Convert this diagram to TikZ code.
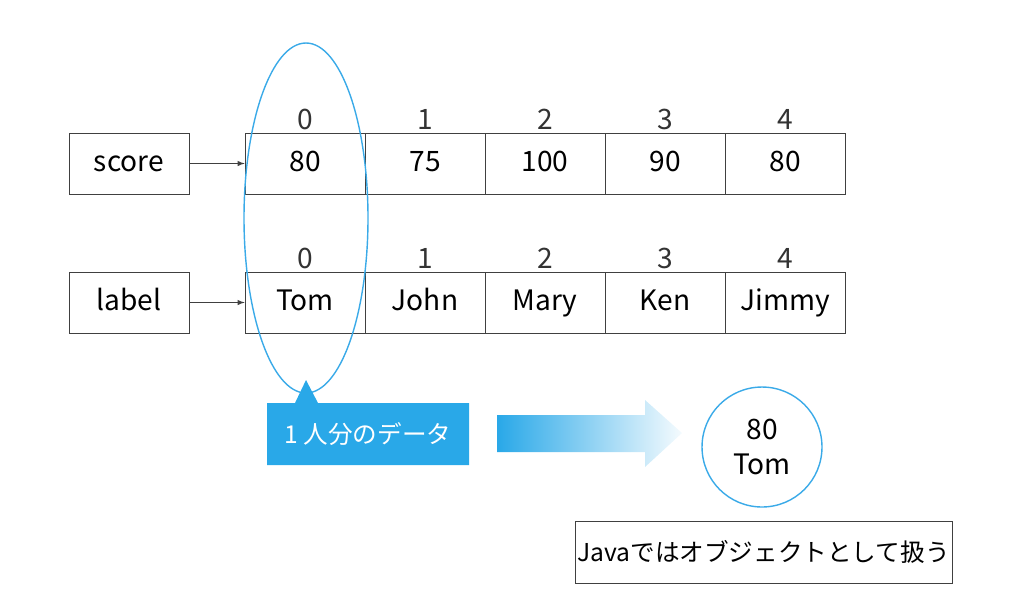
\documentclass[tikz,border=0pt]{standalone}
\usepackage{fontspec}
\setmainfont{Noto Sans CJK JP}
\definecolor{callblue}{HTML}{29A8E8}
\definecolor{ringblue}{HTML}{3AAAE8}
\begin{document}
\begin{tikzpicture}[x=0.02cm,y=-0.02cm,
    cell/.style={draw=black!75,minimum width=2.4cm,minimum height=1.22cm,inner sep=0pt,text height=2ex,text depth=0.3ex,font=\fontsize{16}{19}\selectfont},
    namebox/.style={cell},
    idx/.style={font=\fontsize{16}{19}\selectfont,text=black!80}]
  \useasboundingbox (0,0) rectangle (1024,610);
  % arrays
  \node[namebox] at (129,163.5) (score) {score};
  \node[namebox] at (129,302.5) (label) {label};
  \foreach \v [count=\i from 0] in {80,75,100,90,80}
    \node[cell] at (305+120*\i,163.5) (s\i) {\v};
  \foreach \v [count=\i from 0] in {Tom,John,Mary,Ken,Jimmy}
    \node[cell] at (305+120*\i,302.5) (l\i) {\v};
  \foreach \i in {0,...,4}{
    \node[idx] at (305+120*\i,119) (si\i) {\i};
    \node[idx] at (305+120*\i,258) (li\i) {\i};}
  \draw[-latex,black!75] (score) -- (s0);
  \draw[-latex,black!75] (label) -- (l0);
  % one person
  \draw[ringblue,thick] (306,218) ellipse [x radius=62,y radius=175];
  \fill[callblue] (267,403) -- (295,403) -- (306,380) -- (318,403) -- (469,403) -- (469,465) -- (267,465) -- cycle;
  \node[text=white,font=\fontsize{14}{17}\selectfont] at (368,434) (data) {1 人分のデータ};
  \shade[left color=callblue,right color=callblue!5] (497,415) -- (645,415) -- (645,400) -- (682,433) -- (645,467) -- (645,452) -- (497,452) -- cycle;
  \node[draw=ringblue,thick,circle,minimum size=2.4cm,inner sep=0pt,align=center,font=\fontsize{16}{20}\selectfont] at (762,447) (obj) {80\\Tom};
  \node[draw=black!75,minimum width=7.54cm,minimum height=1.24cm,inner sep=1pt,font=\fontsize{14}{17}\selectfont] at (763.5,552) (java) {Javaではオブジェクトとして扱う};
\end{tikzpicture}
\end{document}
